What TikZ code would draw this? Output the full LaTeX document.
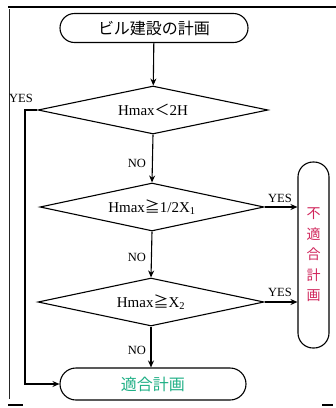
\documentclass[tikz,border=0pt]{standalone}
\usepackage{fontspec}
\setmainfont{Liberation Serif}
\newfontfamily\jp{Noto Sans CJK JP}
\usetikzlibrary{shapes.geometric,arrows.meta}
\definecolor{ngred}{HTML}{D0245A}
\definecolor{okgreen}{HTML}{1FAF85}
\begin{document}
\begin{tikzpicture}[x=1pt,y=-1pt,line width=1.1pt,
  term/.style={draw,rounded corners=14.5pt,minimum width=188pt,minimum height=29pt,inner sep=0pt},
  dec/.style={draw,diamond,aspect=4.7,inner sep=0pt,minimum height=48pt,font=\fontsize{15}{17}\selectfont},
  arr/.style={-{Stealth[length=7pt,width=6pt]}},
  lbl/.style={font=\fontsize{12.5}{14}\selectfont,inner sep=0pt},
  frame/.style={line width=1pt,draw=black!85}]
\useasboundingbox (0,0) rectangle (336,408);
% frame
\draw[line width=2.5pt] (8,7) -- (336,7);
\draw[frame] (9,9) -- (9,399);
\draw[line width=2pt] (8,405) -- (23,405);
\draw[line width=2pt] (322,405) -- (333,405);
% nodes
\node[term,font=\jp\fontsize{16}{18}\selectfont] (start) at (154,28) {ビル建設の計画};
\node[dec,minimum width=230pt] (d1) at (153,110) {Hmax{\jp ＜}2H};
\node[dec,minimum width=224pt] (d2) at (152,207) {Hmax{\jp ≧}1/2X\textsubscript{1}};
\node[dec,minimum width=226pt] (d3) at (151,302) {Hmax{\jp ≧}X\textsubscript{2}};
\node[term,minimum width=186pt,minimum height=32pt,rounded corners=16pt,
      font=\jp\fontsize{16}{18}\selectfont,text=okgreen] (ok) at (153,384) {適合計画};
\node[draw,rounded corners=15pt,minimum width=31pt,minimum height=186pt,inner sep=0pt,
      align=center,text=ngred,font=\jp\fontsize{14}{20.5}\selectfont] (ng) at (313.5,255)
      {不\\適\\合\\計\\画};
% connectors
\draw[arr] (start) -- (d1);
\draw[arr] (d1.south) -- (d2.north);
\draw[arr] (d2.south) -- (d3.north);
\draw[arr] (d3.south) -- (ok.north -| d3.south);
\draw[arr] (d2.east) -- (d2.east -| ng.west);
\draw[arr] (d3.east) -- (d3.east -| ng.west);
\coordinate (c1) at (25,110);
\coordinate (c2) at (25,384);
\draw[arr] (d1.west) -- (c1) -- (c2) -- (ok.west);
% labels
\node[lbl] (y1) at (21,98) {YES};
\node[lbl] (n1) at (137,163) {NO};
\node[lbl] (n2) at (137,257) {NO};
\node[lbl] (n3) at (137,350) {NO};
\node[lbl] (y2) at (280,198) {YES};
\node[lbl] (y3) at (280,292) {YES};
\end{tikzpicture}
\end{document}
